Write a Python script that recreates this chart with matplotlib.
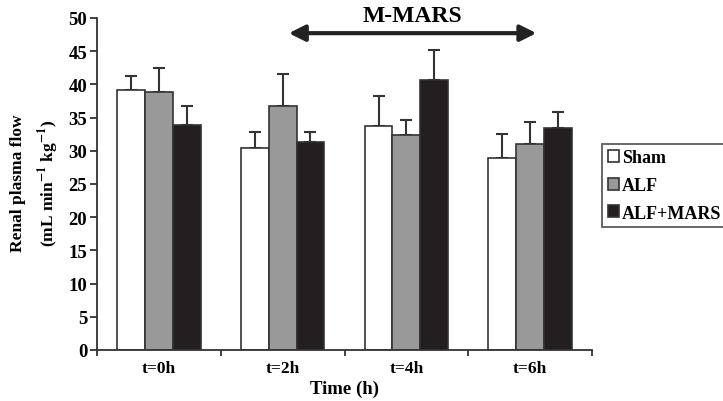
import numpy as np
import matplotlib.pyplot as plt

# --- data ---
time_labels = ['t=0h', 't=2h', 't=4h', 't=6h']
groups = ['Sham', 'ALF', 'ALF+MARS']
sham_mean = [39.2, 30.4, 33.7, 28.9]
sham_err = [2.1, 2.4, 4.5, 3.6]
alf_mean = [38.8, 36.7, 32.3, 31.0]
alf_err = [3.7, 4.9, 2.3, 3.3]
mars_mean = [33.8, 31.3, 40.7, 33.4]
mars_err = [2.9, 1.5, 4.5, 2.4]

colors = ['white', '#999999', '#231f20']

plt.rcParams['font.family'] = ['Liberation Serif', 'DejaVu Serif']
plt.rcParams['font.weight'] = 'bold'
plt.rcParams['mathtext.fontset'] = 'stix'

fig = plt.figure(figsize=(7.23, 4.02), dpi=100)
ax = fig.add_axes([0.134, 0.127, 0.685, 0.826])

x = np.arange(len(time_labels))
width = 0.225
series = [(sham_mean, sham_err), (alf_mean, alf_err), (mars_mean, mars_err)]
for i, (means, errs) in enumerate(series):
    pos = x + (i - 1) * width
    ax.bar(pos, means, width, color=colors[i], edgecolor='#333333',
           linewidth=1.2, label=groups[i], zorder=2)
    ax.errorbar(pos, means, yerr=[np.zeros(len(errs)), errs], fmt='none',
                ecolor='#333333', elinewidth=1.5, capsize=4, capthick=1.5, zorder=1)

ax.set_xlim(-0.5, 3.5)
ax.set_ylim(0, 50)
ax.set_yticks(range(0, 51, 5))
ax.set_xticks(x)
ax.set_xticklabels(time_labels, fontsize=12.5, fontweight='bold')
ax.set_xticks(np.arange(-0.5, 4, 1), minor=True)
ax.tick_params(axis='x', which='major', length=0, pad=7)
ax.tick_params(axis='x', which='minor', length=4, width=1.3, direction='out', color='#333333')
ax.tick_params(axis='y', length=5, width=1.3, color='#333333', labelsize=13.5, pad=2)
for lab in ax.get_yticklabels():
    lab.set_fontweight('bold')

for side in ['top', 'right']:
    ax.spines[side].set_visible(False)
for side in ['left', 'bottom']:
    ax.spines[side].set_linewidth(1.3)
    ax.spines[side].set_color('#333333')

ax.set_xlabel('Time (h)', fontsize=13.5, fontweight='bold', labelpad=3)

fig.text(0.025, 0.545, 'Renal plasma flow', rotation=90, ha='center', va='center',
         fontsize=12.5, fontweight='bold')
fig.text(0.067, 0.545, r'(mL min$^{\mathbf{-1}}$ kg$^{\mathbf{-1}}$)', rotation=90,
         ha='center', va='center', fontsize=12.5, fontweight='bold')

# M-MARS arrow
ax.annotate('', xy=(1.05, 47.7), xytext=(3.05, 47.7),
            arrowprops=dict(arrowstyle='<|-|>', color='#222222', lw=3,
                            mutation_scale=24, shrinkA=0, shrinkB=0),
            annotation_clip=False)
ax.text(2.05, 50.4, 'M-MARS', ha='center', va='center', fontsize=17,
        fontweight='bold', clip_on=False)

leg = fig.legend(loc='upper left', bbox_to_anchor=(0.833, 0.64), frameon=True,
                 fancybox=False, edgecolor='#333333', handlelength=0.65,
                 handleheight=0.65, handletextpad=0.15, borderaxespad=0,
                 borderpad=0.3, labelspacing=0.6, prop={'size': 13, 'weight': 'bold'})
leg.get_frame().set_linewidth(1.3)

fig.savefig('out.png', dpi=100)
